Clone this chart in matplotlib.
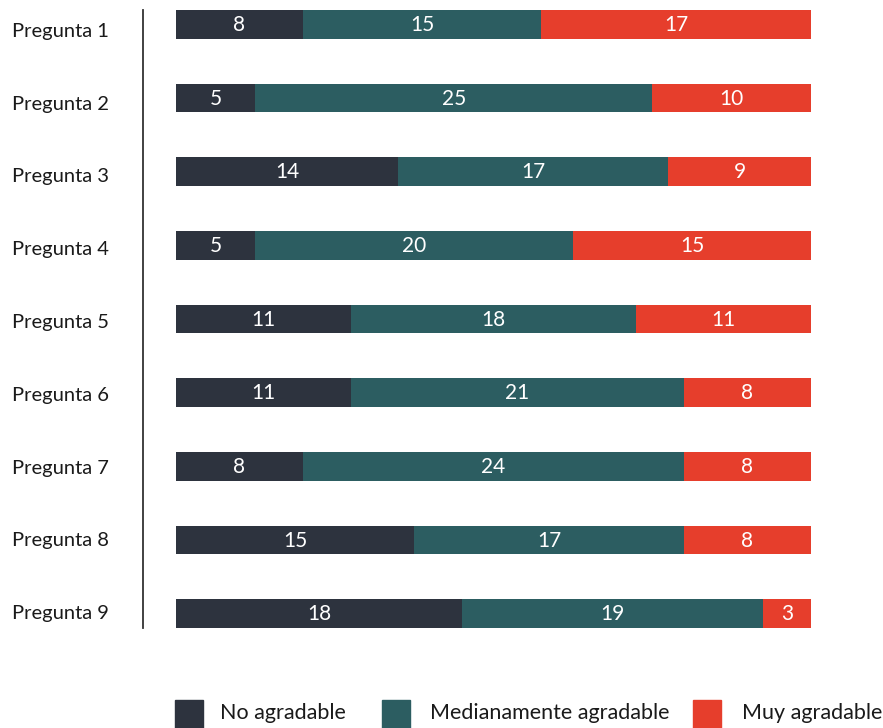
import matplotlib
matplotlib.use("Agg")
import matplotlib.pyplot as plt
from matplotlib.patches import Rectangle
from matplotlib.lines import Line2D
import numpy as np

categories = ["Pregunta 1", "Pregunta 2", "Pregunta 3", "Pregunta 4", "Pregunta 5",
              "Pregunta 6", "Pregunta 7", "Pregunta 8", "Pregunta 9"]
no_agradable = [8, 5, 14, 5, 11, 11, 8, 15, 18]
medianamente = [15, 25, 17, 20, 18, 21, 24, 17, 19]
muy_agradable = [17, 10, 9, 15, 11, 8, 8, 8, 3]
series_names = ["No agradable", "Medianamente agradable", "Muy agradable"]
colors = ["#2d333e", "#2c5d61", "#e63e2c"]

plt.rcParams['font.family'] = ['Lato', 'DejaVu Sans']

W, H = 883, 728
fig = plt.figure(figsize=(W / 100, H / 100), dpi=100)

x0, x1 = 176, 811
y_top, y_bot = 10, 628
ax = fig.add_axes([x0 / W, 1 - y_bot / H, (x1 - x0) / W, (y_bot - y_top) / H])
bar_h = 0.39
n = len(categories)
ax.set_xlim(0, 40)
ax.set_ylim(n - 1 + bar_h / 2, -bar_h / 2)
ax.axis("off")

ypos = np.arange(n)
left = np.zeros(n)
for vals, col in zip([no_agradable, medianamente, muy_agradable], colors):
    vals = np.array(vals)
    ax.barh(ypos, vals, left=left, height=bar_h, color=col, edgecolor="none")
    for y, l, v in zip(ypos, left, vals):
        ax.text(l + v / 2, y + 0.01, str(v), ha="center", va="center", color="white", fontsize=15)
    left = left + vals

# category labels (slightly lower at top, as in the reference)
px_per_unit_y = (y_bot - y_top) / (n - 1 + bar_h)
px_per_unit_x = (x1 - x0) / 40
for i, c in enumerate(categories):
    off = 7 * (1 - i / (n - 1)) / px_per_unit_y
    ax.text(-164 / px_per_unit_x, i + off, c, ha="left", va="center", fontsize=14.5, color="#1a1a1a")

# vertical separator line
fig.add_artist(Line2D([143 / W, 143 / W], [1 - y_top / H, 1 - y_bot / H], color="#333333", lw=1.3))

# legend
leg_x = [175, 382, 693]
txt_x = [220, 430, 742]
for lx, tx, name, col in zip(leg_x, txt_x, series_names, colors):
    fig.add_artist(Rectangle((lx / W, 1 - 728 / H), 28 / W, 28 / H, color=col, transform=fig.transFigure))
    fig.text(tx / W, 1 - 713 / H, name, ha="left", va="center", fontsize=15.5, color="#1a1a1a")

fig.savefig("out.png", dpi=100, facecolor="white")
